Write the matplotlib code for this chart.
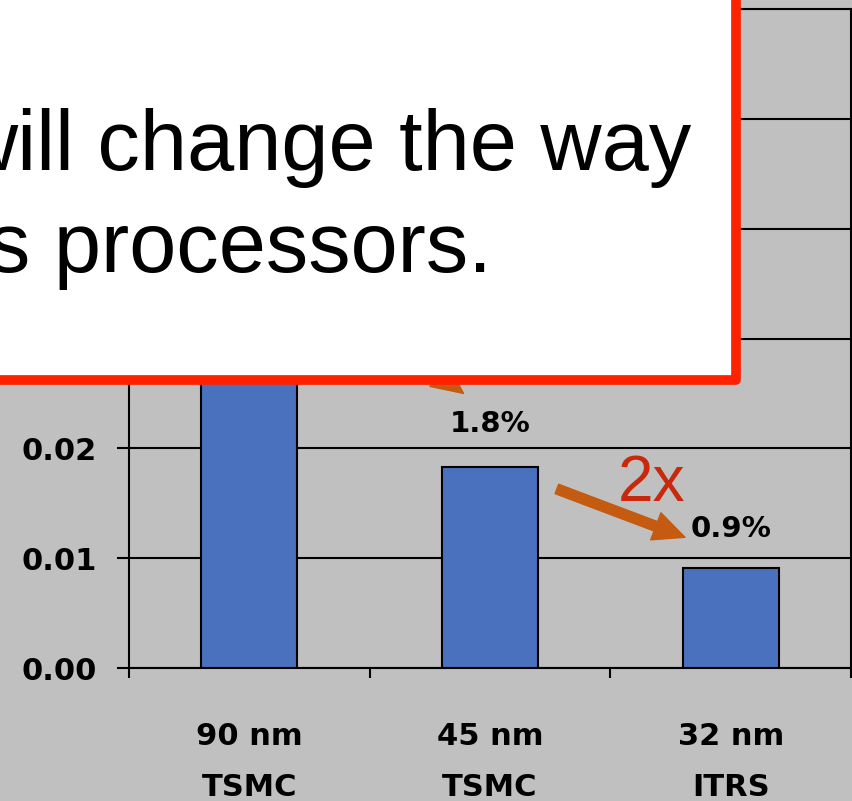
import matplotlib.pyplot as plt
from matplotlib.patches import Rectangle

# data
categories = ['90 nm\nTSMC', '45 nm\nTSMC', '32 nm\nITRS']
values = [0.036, 0.0183, 0.0091]
pct_labels = ['', '1.8%', '0.9%']
yticks = [0.00, 0.01, 0.02, 0.03, 0.04, 0.05, 0.06]
ytick_labels = ['0.00', '0.01', '0.02', '', '', '', '']  # upper ones sit behind the callout

W, H = 853, 801
gray = '#c0c0c0'
bar_color = '#4a71be'
arrow_color = '#c55a11'

def fx(px):
    return px / W

def fy(py):
    return 1 - py / H

fig = plt.figure(figsize=(W / 100, H / 100), dpi=100, facecolor=gray)
ax = fig.add_axes([fx(129), fy(668), fx(851) - fx(129), fy(9) - fy(668)])
ax.set_facecolor(gray)

x = list(range(len(categories)))
ax.bar(x, values, width=0.4, color=bar_color, edgecolor='black', linewidth=1.5, zorder=3)
ax.set_xlim(-0.5, len(categories) - 0.5)
ax.set_ylim(0, 0.06)

ax.set_yticks(yticks)
ax.set_yticklabels(ytick_labels)
ax.yaxis.grid(True, color='black', linewidth=1.5, zorder=0)
ax.set_axisbelow(True)

# category boundary ticks, labels at centers
ax.set_xticks([i - 0.5 for i in range(len(categories) + 1)])
ax.set_xticklabels([])
ax.set_xticks(x, minor=True)
ax.set_xticklabels(categories, minor=True, linespacing=1.95)
ax.tick_params(axis='x', which='major', direction='out', length=7, width=1.5)
ax.tick_params(axis='x', which='minor', length=0, pad=39)
ax.tick_params(axis='y', direction='out', length=9, width=1.5, pad=14)
for lab in ax.get_xticklabels(minor=True) + ax.get_yticklabels():
    lab.set_fontweight('bold')
    lab.set_fontsize(22)
    lab.set_family('DejaVu Sans')

for sp in ax.spines.values():
    sp.set_linewidth(1.5)
    sp.set_color('black')

# percentage labels
ax.text(1.0, 0.0215, pct_labels[1], ha='center', va='baseline', fontsize=21, fontweight='bold')
ax.text(2.0, 0.0119, pct_labels[2], ha='center', va='baseline', fontsize=21, fontweight='bold')

# arrows
arrow_style = dict(arrowstyle='simple,head_length=1.4,head_width=1.3,tail_width=0.45',
                   color=arrow_color, mutation_scale=16, shrinkA=0, shrinkB=0)
ax.annotate('', xy=(1.81, 0.0119), xytext=(1.278, 0.0163), arrowprops=arrow_style, zorder=5)
ax.annotate('', xy=(0.89, 0.0250), xytext=(0.4, 0.0330), arrowprops=arrow_style, zorder=5)

ax.text(1.53, 0.0152, '2x', color='#c8280c', fontsize=46, family='Liberation Sans',
        ha='left', va='baseline')

# white callout box with red border
box = Rectangle((fx(-20), fy(380)), fx(736) - fx(-20), fy(-20) - fy(380),
                transform=fig.transFigure, facecolor='white', edgecolor='#ff2200',
                linewidth=7, joinstyle='round', zorder=10)
fig.add_artist(box)
fig.text(fx(-44), fy(170), 'will change the way', fontsize=61, family='Liberation Sans',
         ha='left', va='baseline', zorder=11)
fig.text(fx(-12), fy(272), 's processors.', fontsize=61, family='Liberation Sans',
         ha='left', va='baseline', zorder=11)

fig.savefig('out.png', dpi=100, facecolor=gray)
